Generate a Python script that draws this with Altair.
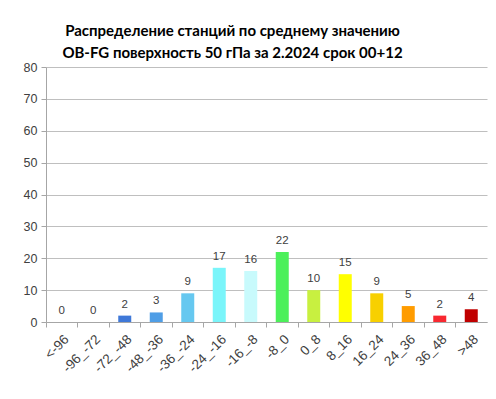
import altair as alt
import pandas as pd

categories = ["<-96", "-96_-72", "-72_-48", "-48_-36", "-36_-24", "-24_-16", "-16_-8",
              "-8_0", "0_8", "8_16", "16_24", "24_36", "36_48", ">48"]
values = [0, 0, 2, 3, 9, 17, 16, 22, 10, 15, 9, 5, 2, 4]
colors = ["#3f78d8", "#3f78d8", "#3f78d8", "#4f9ee6", "#66c8f0", "#7af5fa", "#c8fafc",
          "#4cf05a", "#c8f040", "#ffff00", "#f8d000", "#ff9c00", "#f82830", "#c00000"]
y_ticks = [0, 10, 20, 30, 40, 50, 60, 70, 80]

df = pd.DataFrame({"cat": categories, "val": values, "col": colors})

xscale = alt.Scale(paddingInner=0, paddingOuter=0)
x_labels = alt.X("cat:N", sort=categories, title=None, scale=xscale,
                 axis=alt.Axis(orient="bottom", labelAngle=-45, labelAlign="right",
                               labelBaseline="top",
                               labelFont="Liberation Sans", labelFontSize=13.5,
                               labelColor="#404040", ticks=False, domainColor="#a6a6a6",
                               labelPadding=10, grid=False, labelOverlap=False))
x_ticks = alt.X("cat:N", sort=categories, title=None, scale=xscale,
                axis=alt.Axis(orient="bottom", labels=False, bandPosition=0, ticks=True,
                              tickSize=5, tickColor="#a6a6a6", domain=False, grid=False))
y = alt.Y("val:Q", title=None,
          scale=alt.Scale(domain=[0, 80], nice=False),
          axis=alt.Axis(values=y_ticks, labelOverlap=False,
                        labelFont="Liberation Sans",
                        labelFontSize=12.5, labelColor="#404040", tickColor="#a6a6a6",
                        tickSize=5, domainColor="#a6a6a6", gridColor="#bfbfbf",
                        labelPadding=4))

bars = alt.Chart(df).mark_bar(size=13).encode(
    x=x_ticks, y=y, color=alt.Color("col:N", scale=None))
labels = alt.Chart(df).mark_text(baseline="alphabetic", dy=-8, font="Liberation Sans",
                                 fontSize=11.5, color="#404040").encode(
    x=x_labels, y=y, text="val:Q")

chart = alt.layer(bars, labels).resolve_axis(x="independent").properties(
    width=441, height=255,
    autosize=alt.AutoSizeParams(type="none"),
    padding={"left": 38, "top": 59, "right": 1, "bottom": 69},
    title=alt.TitleParams(
        ["Распределение станций по среднему значению",
         "OB-FG поверхность  50 гПа за 2.2024 срок 00+12"],
        font="Lato", fontSize=15, fontWeight="bold", color="#000000",
        anchor="middle", dx=-34, dy=6, offset=6, lineHeight=22)
).configure_view(stroke=None)

chart.save("out.html", embed_options={"renderer": "svg", "actions": False})
